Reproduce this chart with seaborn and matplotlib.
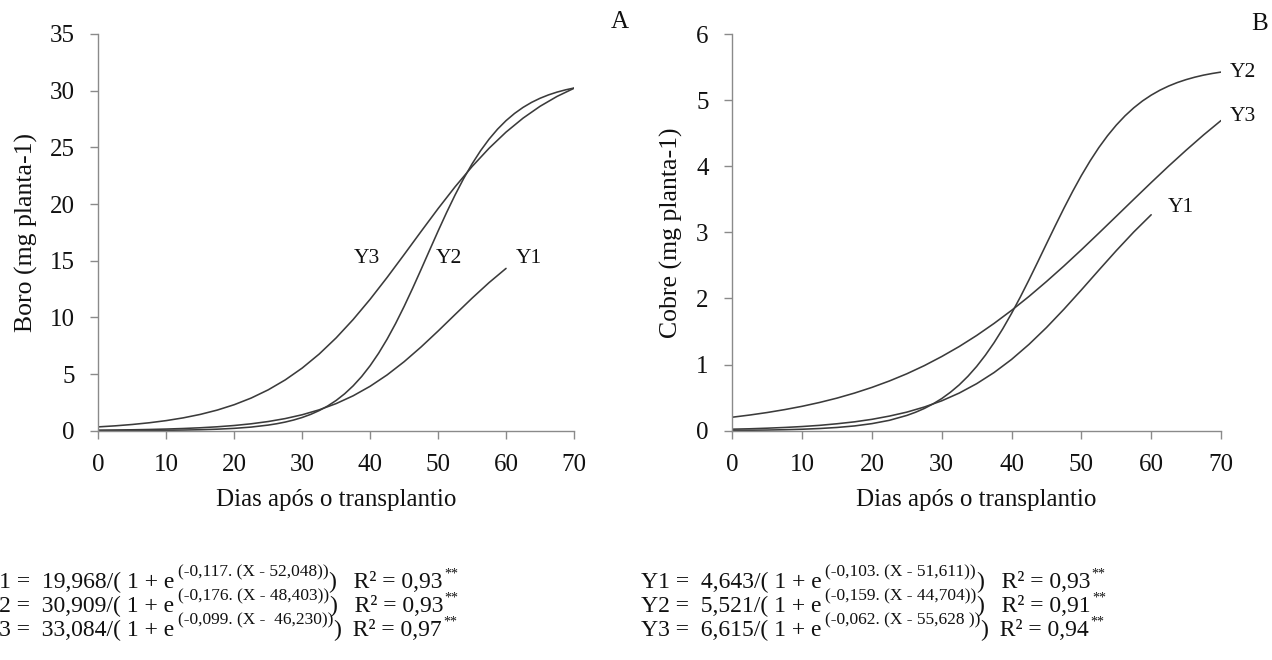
import matplotlib
matplotlib.use("Agg")
import matplotlib.pyplot as plt
import pandas as pd
import seaborn as sns

# ---------------- data ----------------
days = [0, 2.5, 5, 7.5, 10, 12.5, 15, 17.5, 20, 22.5, 25, 27.5, 30, 32.5, 35,
        37.5, 40, 42.5, 45, 47.5, 50, 52.5, 55, 57.5, 60, 62.5, 65, 67.5, 70]
days_to60 = [0, 2.5, 5, 7.5, 10, 12.5, 15, 17.5, 20, 22.5, 25, 27.5, 30, 32.5,
             35, 37.5, 40, 42.5, 45, 47.5, 50, 52.5, 55, 57.5, 60]
days_fine = [0, 2.5, 5, 7.5, 10, 12.5, 15, 17.5, 20, 22.5, 25, 26.25, 27.5,
             28.75, 30, 31.25, 32.5, 33.75, 35, 36.25, 37.5, 38.75, 40, 41.25,
             42.5, 43.75, 45, 46.25, 47.5, 48.75, 50, 51.25, 52.5, 53.75, 55,
             56.25, 57.5, 58.75, 60, 61.25, 62.5, 63.75, 65, 66.25, 67.5, 68.75, 70]

boro_y1 = [0.045, 0.061, 0.081, 0.108, 0.145, 0.194, 0.258, 0.345, 0.459, 0.610,
           0.809, 1.069, 1.407, 1.841, 2.392, 3.079, 3.920, 4.923, 6.086, 7.389,
           8.793, 10.248, 11.692, 13.065, 14.320]
boro_y2 = [0.006, 0.010, 0.015, 0.023, 0.036, 0.056, 0.086, 0.134, 0.207, 0.320,
           0.495, 0.614, 0.761, 0.943, 1.166, 1.440, 1.774, 2.179, 2.669, 3.257,
           3.956, 4.779, 5.737, 6.836, 8.079, 9.458, 10.960, 12.561, 14.229, 15.927,
           17.612, 19.248, 20.797, 22.234, 23.539, 24.702, 25.721, 26.603, 27.356,
           27.991, 28.523, 28.965, 29.329, 29.628, 29.873, 30.072, 30.234]
boro_y3 = [0.337, 0.430, 0.549, 0.700, 0.891, 1.133, 1.437, 1.819, 2.294, 2.882,
           3.604, 4.479, 5.526, 6.761, 8.190, 9.808, 11.596, 13.522, 15.536, 17.580,
           19.594, 21.517, 23.304, 24.918, 26.345, 27.575, 28.620, 29.492, 30.211]

cobre_y1 = [0.023, 0.029, 0.038, 0.049, 0.063, 0.081, 0.105, 0.134, 0.172, 0.221,
            0.281, 0.358, 0.452, 0.569, 0.711, 0.880, 1.078, 1.306, 1.560, 1.837,
            2.129, 2.428, 2.723, 3.005, 3.266]
cobre_y2 = [0.005, 0.007, 0.010, 0.015, 0.022, 0.033, 0.049, 0.072, 0.107, 0.157,
            0.231, 0.279, 0.336, 0.405, 0.486, 0.582, 0.693, 0.823, 0.972, 1.142,
            1.332, 1.543, 1.774, 2.021, 2.282, 2.552, 2.826, 3.098, 3.364, 3.619,
            3.859, 4.080, 4.282, 4.462, 4.622, 4.762, 4.883, 4.987, 5.075, 5.150,
            5.213, 5.266, 5.310, 5.347, 5.378, 5.403, 5.424]
cobre_y3 = [0.204, 0.237, 0.275, 0.319, 0.369, 0.427, 0.493, 0.569, 0.655, 0.752,
            0.861, 0.984, 1.122, 1.273, 1.440, 1.623, 1.820, 2.031, 2.256, 2.491,
            2.736, 2.988, 3.243, 3.499, 3.753, 4.002, 4.242, 4.473, 4.691]

x_ticks = [0, 10, 20, 30, 40, 50, 60, 70]
boro_ticks = [0, 5, 10, 15, 20, 25, 30, 35]
cobre_ticks = [0, 1, 2, 3, 4, 5, 6]

x_label = "Dias após o transplantio"
boro_label = "Boro (mg planta-1)"
cobre_label = "Cobre (mg planta-1)"
panel_letters = ["A", "B"]
series_names = ["Y1", "Y2", "Y3"]

# equation texts
eqA_main = ["Y1 =  19,968/( 1 + e", "Y2 =  30,909/( 1 + e", "Y3 =  33,084/( 1 + e"]
eqA_sup = ["(-0,117. (X - 52,048))", "(-0,176. (X - 48,403))", "(-0,099. (X -  46,230))"]
eqA_r2 = ["   R² = 0,93", "   R² = 0,93", "  R² = 0,97"]
eqB_main = ["Y1 =  4,643/( 1 + e", "Y2 =  5,521/( 1 + e", "Y3 =  6,615/( 1 + e"]
eqB_sup = ["(-0,103. (X - 51,611))", "(-0,159. (X - 44,704))", "(-0,062. (X - 55,628 ))"]
eqB_r2 = ["   R² = 0,93", "   R² = 0,91", "  R² = 0,94"]

# ---------------- style ----------------
sns.set_theme(style="white")
plt.rcParams["font.family"] = ["Liberation Serif", "DejaVu Serif"]

LINE = "#3b3b3b"
SPINE = "#8a8a8a"
TXT = "#111111"

W, H = 1272, 660
fig = plt.figure(figsize=(W / 100, H / 100), dpi=100)


def px_axes(x0, x1, y_top, y_bot):
    return fig.add_axes([x0 / W, (H - y_bot) / H, (x1 - x0) / W, (y_bot - y_top) / H])


axA = px_axes(98.3, 574.0, 34.0, 430.7)
axB = px_axes(732.3, 1221.0, 34.0, 430.7)

dfA = pd.concat([
    pd.DataFrame({"dias": days_to60, "valor": boro_y1, "serie": "Y1"}),
    pd.DataFrame({"dias": days_fine, "valor": boro_y2, "serie": "Y2"}),
    pd.DataFrame({"dias": days, "valor": boro_y3, "serie": "Y3"}),
])
dfB = pd.concat([
    pd.DataFrame({"dias": days_to60, "valor": cobre_y1, "serie": "Y1"}),
    pd.DataFrame({"dias": days_fine, "valor": cobre_y2, "serie": "Y2"}),
    pd.DataFrame({"dias": days, "valor": cobre_y3, "serie": "Y3"}),
])

pal = {s: LINE for s in series_names}
for ax, df, yt, ylab, lx in [(axA, dfA, boro_ticks, boro_label, -0.150),
                             (axB, dfB, cobre_ticks, cobre_label, -0.1255)]:
    sns.lineplot(data=df, x="dias", y="valor", hue="serie", palette=pal,
                 ax=ax, legend=False, linewidth=1.15, estimator=None, sort=True)
    for ln in ax.lines:
        ln.set_solid_joinstyle("round")
    ax.set_xlim(0, 70)
    ax.set_ylim(yt[0], yt[-1])
    ax.set_xticks(x_ticks)
    ax.set_yticks(yt)
    sns.despine(ax=ax)
    for sp in ["left", "bottom"]:
        ax.spines[sp].set_color(SPINE)
        ax.spines[sp].set_linewidth(1.0)
    ax.tick_params(axis="both", direction="out", length=6, width=1.0,
                   color=SPINE, labelsize=18, labelcolor=TXT)
    ax.tick_params(axis="x", pad=11, bottom=True)
    ax.tick_params(axis="y", pad=11, left=True)
    ax.set_xlabel(x_label, fontsize=18, color=TXT, va="center")
    ax.xaxis.set_label_coords(0.5, -0.1747)
    ax.set_ylabel(ylab, fontsize=18.5, color=TXT, va="center")
    ax.yaxis.set_label_coords(lx, 0.5)
    ax.grid(False)

# curve labels
labA = {"Y3": (39.5, 15.2), "Y2": (51.6, 15.2), "Y1": (63.4, 15.2)}
labB = {"Y2": (73.1, 5.42), "Y3": (73.1, 4.75), "Y1": (64.2, 3.37)}
for ax, labs in [(axA, labA), (axB, labB)]:
    for name, (xx, yy) in labs.items():
        ax.text(xx, yy, name, fontsize=15.5, ha="center", va="center",
                color=TXT, clip_on=False)

# overlay axes in pixel coordinates for free text
axT = fig.add_axes([0, 0, 1, 1], zorder=5)
axT.set_xlim(0, W)
axT.set_ylim(H, 0)
axT.axis("off")
axT.patch.set_alpha(0)

axT.text(620, 22, panel_letters[0], fontsize=18, ha="center", va="center", color=TXT)
axT.text(1260, 24, panel_letters[1], fontsize=18, ha="center", va="center", color=TXT)


def eq_line(x, y, main, sup, r2, fs=17, sfs=12.5):
    t = axT.text(x, y, main, fontsize=fs, va="bottom", ha="left", color=TXT)
    s = axT.annotate(sup, xy=(1, 0), xycoords=t, xytext=(2.5, 9),
                     textcoords="offset points", fontsize=sfs, va="bottom",
                     ha="left", color=TXT)
    c = axT.annotate(")", xy=(1, 0), xycoords=s, xytext=(0, -9),
                     textcoords="offset points", fontsize=fs, va="bottom",
                     ha="left", color=TXT)
    r = axT.annotate(r2, xy=(1, 0), xycoords=c, xytext=(0, 0),
                     textcoords="offset points", fontsize=fs, va="bottom",
                     ha="left", color=TXT)
    axT.annotate("**", xy=(1, 0), xycoords=r, xytext=(1, 9),
                 textcoords="offset points", fontsize=10, va="bottom",
                 ha="left", color=TXT)


row_bottoms = [593, 617, 641]
for i in range(3):
    eq_line(-18, row_bottoms[i], eqA_main[i], eqA_sup[i], eqA_r2[i])
    eq_line(641, row_bottoms[i], eqB_main[i], eqB_sup[i], eqB_r2[i])

fig.savefig("out.png", dpi=100)
